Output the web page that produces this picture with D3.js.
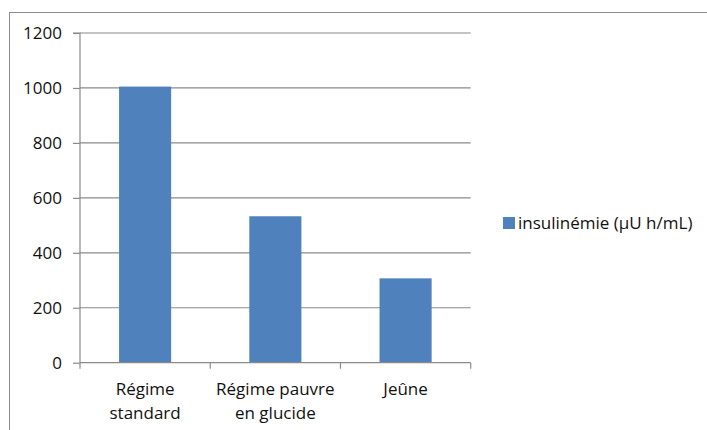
<!DOCTYPE html>
<html><head><meta charset="utf-8">
<script src="https://cdn.jsdelivr.net/npm/d3@7"></script>
<style>
html,body{margin:0;padding:0;background:#fff;overflow:hidden}
text{font-family:"Open Sans",sans-serif;fill:#111}
</style></head>
<body>
<svg id="c" width="707" height="430"></svg>
<script>
const categories = [["Régime","standard"],["Régime pauvre","en glucide"],["Jeûne"]];
const values = [1005, 533, 307];
const yTicks = [0, 200, 400, 600, 800, 1000, 1200];
const seriesName = "insulinémie (µU h/mL)";

const svg = d3.select("#c");
const L = 80, R = 470.7, T = 33, B = 362.7;
const fs = 17;

// outer frame
svg.append("rect").attr("x",9.5).attr("y",12.5).attr("width",760).attr("height",500)
  .attr("fill","none").attr("stroke","#8c8c8c").attr("stroke-width",1);

const x = d3.scaleBand().domain(d3.range(categories.length)).range([L,R])
  .paddingInner(0.6).paddingOuter(0.3);
const y = d3.scaleLinear().domain([0,1200]).range([B,T]);

// gridlines
svg.append("g").selectAll("line").data(yTicks.filter(d=>d>0)).join("line")
  .attr("x1",L).attr("x2",R).attr("y1",d=>y(d)).attr("y2",d=>y(d))
  .attr("stroke","#8a8a8a").attr("stroke-width",1.2);

// bars
svg.append("g").selectAll("rect").data(values).join("rect")
  .attr("x",(d,i)=>x(i)).attr("width",x.bandwidth())
  .attr("y",d=>y(d)).attr("height",d=>B-y(d)).attr("fill","#4F81BD");

// y axis
const ya = svg.append("g").attr("transform",`translate(${L},0)`)
  .call(d3.axisLeft(y).tickValues(yTicks).tickSize(7).tickPadding(11).tickFormat(d3.format("d")));
ya.select(".domain").attr("stroke","#8a8a8a").attr("stroke-width",1.2).attr("d",`M-7,${T}H0V${B}`);
ya.selectAll(".tick line").attr("stroke","#8a8a8a").attr("stroke-width",1.2);
ya.selectAll("text").attr("font-size",fs).attr("font-family","Open Sans").attr("fill","#111");

// x axis
const step = (R-L)/categories.length;
const xa = svg.append("g");
xa.append("line").attr("x1",L).attr("x2",R).attr("y1",B).attr("y2",B)
  .attr("stroke","#8a8a8a").attr("stroke-width",1.2);
xa.selectAll(".tk").data(d3.range(categories.length+1)).join("line").attr("class","tk")
  .attr("x1",i=>L+i*step).attr("x2",i=>L+i*step).attr("y1",B).attr("y2",B+6)
  .attr("stroke","#8a8a8a").attr("stroke-width",1.2);
categories.forEach((lines,i)=>{
  const cx = x(i)+x.bandwidth()/2;
  const t = xa.append("text").attr("text-anchor","middle").attr("font-size",fs);
  lines.forEach((s,j)=>t.append("tspan").attr("x",cx).attr("y",395+j*23.5).text(s));
});

// legend
const lg = svg.append("g");
lg.append("rect").attr("x",503).attr("y",217).attr("width",12).attr("height",12).attr("fill","#4F81BD");
lg.append("text").attr("x",518).attr("y",229).attr("font-size",fs).text(seriesName);
</script>
</body></html>
